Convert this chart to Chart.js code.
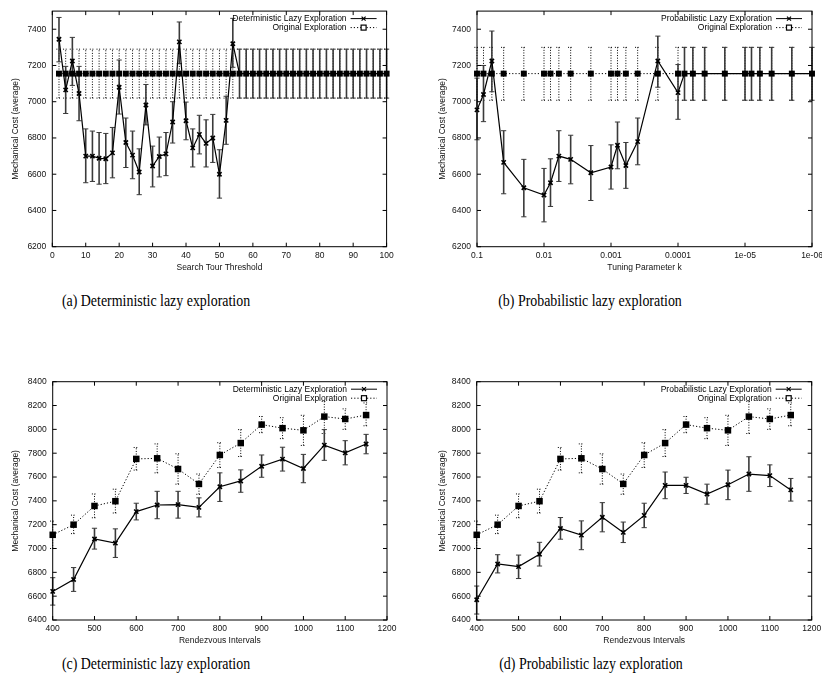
<!DOCTYPE html>
<html><head><meta charset="utf-8">
<script src="https://cdn.jsdelivr.net/npm/chart.js@4.4.1/dist/chart.umd.min.js"></script>
<style>
html,body{margin:0;padding:0;background:#fff}
body{width:822px;height:694px;position:relative;overflow:hidden}
canvas{position:absolute}
.cap{position:absolute;font:16px "Liberation Serif","Times New Roman",serif;color:#000;white-space:nowrap;transform:translateX(-50%) scaleX(0.87);line-height:18px}
</style></head><body>
<canvas id="ca" width="410" height="275" style="left:0;top:0"></canvas>
<canvas id="cb" width="422" height="275" style="left:410px;top:0"></canvas>
<canvas id="cc" width="410" height="300" style="left:0;top:355px"></canvas>
<canvas id="cd" width="422" height="300" style="left:410px;top:355px"></canvas>
<div class="cap" style="left:156px;top:292px">(a) Deterministic lazy exploration</div>
<div class="cap" style="left:590px;top:292px">(b) Probabilistic lazy exploration</div>
<div class="cap" style="left:156px;top:655px">(c) Deterministic lazy exploration</div>
<div class="cap" style="left:591px;top:655px">(d) Probabilistic lazy exploration</div>
<script>
// ---------- Panel (a): Search Tour Threshold ----------
const xA = [2,4,6,8,10,12,14,16,18,20,22,24,26,28,30,32,34,36,38,40,42,44,46,48,50,52,54,56,58,60,62,64,66,68,70,72,74,76,78,80,82,84,86,88,90,92,94,96,98,100];
const lazyA   = [7345,7065,7225,7045,6700,6700,6688,6685,6718,7080,6775,6705,6612,6982,6645,6698,6712,6888,7330,6895,6745,6820,6770,6800,6600,6897,7320,7155,7155,7155,7155,7155,7155,7155,7155,7155,7155,7155,7155,7155,7155,7155,7155,7155,7155,7155,7155,7155,7155,7155];
const lazyALo = [7220,6935,7090,6895,6553,6560,6545,6548,6580,6932,6637,6575,6487,6872,6530,6585,6592,6772,7210,6790,6640,6712,6640,6665,6468,6765,7190,7020,7020,7020,7020,7020,7020,7020,7020,7020,7020,7020,7020,7020,7020,7020,7020,7020,7020,7020,7020,7020,7020,7020];
const lazyAHi = [7465,7195,7355,7195,6850,6838,6830,6825,6858,7230,6910,6838,6740,7095,6755,6805,6830,7000,7440,6998,6850,6925,6900,6930,6735,7030,7460,7290,7290,7290,7290,7290,7290,7290,7290,7290,7290,7290,7290,7290,7290,7290,7290,7290,7290,7290,7290,7290,7290,7290];
const origA   = [7155,7155,7155,7155,7155,7155,7155,7155,7155,7155,7155,7155,7155,7155,7155,7155,7155,7155,7155,7155,7155,7155,7155,7155,7155,7155,7155,7155,7155,7155,7155,7155,7155,7155,7155,7155,7155,7155,7155,7155,7155,7155,7155,7155,7155,7155,7155,7155,7155,7155];
const origALo = [7020,7020,7020,7020,7020,7020,7020,7020,7020,7020,7020,7020,7020,7020,7020,7020,7020,7020,7020,7020,7020,7020,7020,7020,7020,7020,7020,7020,7020,7020,7020,7020,7020,7020,7020,7020,7020,7020,7020,7020,7020,7020,7020,7020,7020,7020,7020,7020,7020,7020];
const origAHi = [7290,7290,7290,7290,7290,7290,7290,7290,7290,7290,7290,7290,7290,7290,7290,7290,7290,7290,7290,7290,7290,7290,7290,7290,7290,7290,7290,7290,7290,7290,7290,7290,7290,7290,7290,7290,7290,7290,7290,7290,7290,7290,7290,7290,7290,7290,7290,7290,7290,7290];
const xTicksA = [0,10,20,30,40,50,60,70,80,90,100];
const yTicksAB = [6200,6400,6600,6800,7000,7200,7400];

// ---------- Panel (b): Tuning Parameter k ----------
const xB = [0.1,0.08,0.06,0.04,0.02,0.01,0.008,0.006,0.004,0.002,0.001,0.0008,0.0006,0.0004,0.0002,0.0001,0.00008,0.00006,0.00004,0.00002,0.00001,0.000008,0.000006,0.000004,0.000002,0.000001];
const lazyB   = [6955,7040,7225,6665,6525,6485,6553,6700,6682,6608,6640,6760,6648,6780,7225,7050,7155,7155,7155,7155,7155,7155,7155,7155,7155,7155];
const lazyBLo = [6790,6890,7055,6492,6365,6337,6422,6560,6547,6455,6518,6630,6522,6652,7080,6903,7008,7008,7008,7008,7008,7008,7008,7008,7008,7008];
const lazyBHi = [7130,7200,7390,6840,6682,6632,6685,6840,6815,6758,6762,6888,6775,6910,7362,7205,7300,7300,7300,7300,7300,7300,7300,7300,7300,7300];
const origB   = [7155,7155,7155,7155,7155,7155,7155,7155,7155,7155,7155,7155,7155,7155,7155,7155,7155,7155,7155,7155,7155,7155,7155,7155,7155,7155];
const origBLo = [7008,7008,7008,7008,7008,7008,7008,7008,7008,7008,7008,7008,7008,7008,7008,7008,7008,7008,7008,7008,7008,7008,7008,7008,7008,7008];
const origBHi = [7300,7300,7300,7300,7300,7300,7300,7300,7300,7300,7300,7300,7300,7300,7300,7300,7300,7300,7300,7300,7300,7300,7300,7300,7300,7300];
const xTicksB = [0.1,0.01,0.001,0.0001,0.00001,0.000001];
const xTickLabelsB = ['0.1','0.01','0.001','0.0001','1e-05','1e-06'];

// ---------- Panels (c),(d): Rendezvous Intervals ----------
const xCD = [400,450,500,550,600,650,700,750,800,850,900,950,1000,1050,1100,1150];
const lazyC   = [6640,6740,7080,7045,7310,7365,7368,7345,7518,7567,7690,7750,7672,7868,7803,7877];
const lazyCLo = [6525,6640,6995,6925,7240,7250,7255,7265,7395,7472,7598,7650,7552,7740,7702,7795];
const lazyCHi = [6755,6840,7170,7165,7380,7480,7480,7425,7635,7660,7785,7850,7790,7998,7905,7958];
const lazyD   = [6570,6870,6848,6952,7168,7112,7262,7135,7278,7530,7530,7457,7535,7625,7612,7492];
const lazyDLo = [6450,6795,6748,6853,7078,6990,7140,7050,7175,7418,7462,7372,7410,7480,7520,7398];
const lazyDHi = [6685,6948,6945,7052,7260,7232,7385,7222,7380,7642,7598,7540,7658,7770,7702,7588];
const origCD   = [7115,7200,7357,7397,7752,7757,7667,7542,7785,7885,8040,8010,7992,8107,8087,8120];
const origCDLo = [7000,7125,7258,7298,7658,7635,7540,7455,7680,7772,7972,7922,7865,7965,8000,8030];
const origCDHi = [7230,7280,7458,7498,7848,7878,7795,7625,7888,7998,8108,8098,8118,8235,8172,8222];
const xTicksCD = [400,500,600,700,800,900,1000,1100,1200];
const yTicksCD = [6400,6600,6800,7000,7200,7400,7600,7800,8000,8200,8400];

const FONT = '"Liberation Sans", Arial, sans-serif';
const FS = 8.5;

const gp = {
  id: 'gp',
  beforeDatasetsDraw(chart, args, o) {
    const ctx = chart.ctx, xs = chart.scales.x, ys = chart.scales.y;
    o.bars.forEach(b => {
      ctx.save();
      ctx.strokeStyle = b.color; ctx.lineWidth = b.width; ctx.setLineDash(b.dash);
      const cap = b.cap;
      b.x.forEach((xv, i) => {
        const px = xs.getPixelForValue(xv);
        const lo = ys.getPixelForValue(b.lo[i]), hi = ys.getPixelForValue(b.hi[i]);
        ctx.beginPath();
        ctx.moveTo(px, lo); ctx.lineTo(px, hi);
        ctx.stroke();
        ctx.beginPath();
        ctx.lineWidth = 1;
        ctx.moveTo(px - cap, lo); ctx.lineTo(px + cap, lo);
        ctx.moveTo(px - cap, hi); ctx.lineTo(px + cap, hi);
        ctx.stroke();
        ctx.lineWidth = b.width;
      });
      ctx.restore();
    });
  },
  afterDraw(chart, args, o) {
    const ctx = chart.ctx, a = chart.chartArea, xs = chart.scales.x, ys = chart.scales.y;
    ctx.save();
    ctx.strokeStyle = '#000'; ctx.lineWidth = 1; ctx.setLineDash([]);
    ctx.strokeRect(a.left, a.top, a.right - a.left, a.bottom - a.top);
    ctx.beginPath();
    xs.ticks.forEach(t => {
      const px = xs.getPixelForValue(t.value);
      ctx.moveTo(px, a.bottom); ctx.lineTo(px, a.bottom - 4);
      ctx.moveTo(px, a.top); ctx.lineTo(px, a.top + 4);
    });
    ys.ticks.forEach(t => {
      const py = ys.getPixelForValue(t.value);
      ctx.moveTo(a.left, py); ctx.lineTo(a.left + 4, py);
      ctx.moveTo(a.right, py); ctx.lineTo(a.right - 4, py);
    });
    ctx.stroke();
    // legend
    ctx.font = FS + 'px ' + FONT;
    ctx.fillStyle = '#000';
    ctx.textAlign = 'right'; ctx.textBaseline = 'middle';
    o.legend.forEach((it, i) => {
      const y = a.top + 7.5 + i * 9;
      ctx.fillText(it.label, a.right - 40, y);
      ctx.beginPath();
      ctx.setLineDash(it.dash); ctx.lineWidth = 1;
      ctx.moveTo(a.right - 36, y); ctx.lineTo(a.right - 10, y);
      ctx.stroke();
      ctx.setLineDash([]);
      const mx = a.right - 23;
      ctx.beginPath();
      if (it.marker === 'x') {
        ctx.lineWidth = 1.2;
        ctx.moveTo(mx - 2, y - 2); ctx.lineTo(mx + 2, y + 2);
        ctx.moveTo(mx - 2, y + 2); ctx.lineTo(mx + 2, y - 2);
        ctx.stroke();
      } else {
        ctx.fillStyle = '#fff';
        ctx.fillRect(mx - 2.5, y - 2.5, 5, 5);
        ctx.lineWidth = 1.2;
        ctx.strokeRect(mx - 2.5, y - 2.5, 5, 5);
        ctx.fillStyle = '#000';
      }
    });
    ctx.restore();
  }
};

function makeChart(id, cfg) {
  const pts = (xv, yv) => xv.map((x, i) => ({x: x, y: yv[i]}));
  const xScale = {
    type: cfg.xType,
    min: cfg.xMin, max: cfg.xMax, reverse: !!cfg.xReverse,
    grid: {display: false, drawTicks: false},
    border: {display: false},
    afterBuildTicks: s => { s.ticks = cfg.xTicks.map(v => ({value: v})); },
    afterFit: s => { s.height = cfg.geo.xh; },
    ticks: {
      autoSkip: false, maxRotation: 0, padding: cfg.geo.xtp, color: '#111',
      font: {family: FONT, size: FS},
      callback: (v, i) => cfg.xLabels ? cfg.xLabels[i] : String(cfg.xTicks[i])
    },
    title: {display: true, text: cfg.xTitle, color: '#111', font: {family: FONT, size: FS},
            padding: {top: 0, bottom: cfg.geo.xtitlePad}}
  };
  const yScale = {
    type: 'linear', min: cfg.yMin, max: cfg.yMax,
    grid: {display: false, drawTicks: false},
    border: {display: false},
    afterBuildTicks: s => { s.ticks = cfg.yTicks.map(v => ({value: v})); },
    afterFit: s => { s.width = cfg.geo.yw; },
    ticks: {padding: 6, color: '#111', font: {family: FONT, size: FS}, callback: v => String(v)},
    title: {display: true, text: 'Mechanical Cost (average)', color: '#111', font: {family: FONT, size: FS},
            padding: {top: cfg.geo.ytitlePad, bottom: 0}}
  };
  return new Chart(document.getElementById(id), {
    type: 'line',
    data: {
      datasets: [
        {label: cfg.lazyLabel, data: pts(cfg.x, cfg.lazy), borderColor: '#000', borderWidth: 1.2,
         pointStyle: 'crossRot', pointRadius: 3, pointBorderWidth: 1.6, pointBorderColor: '#000',
         pointBackgroundColor: '#000', tension: 0, clip: false},
        {label: 'Original Exploration', data: pts(cfg.x, cfg.orig), borderColor: '#000', borderWidth: 1,
         borderDash: [1.2, 2], pointStyle: 'rect', pointRadius: cfg.sq, pointBorderWidth: 0,
         pointBackgroundColor: '#000', pointBorderColor: '#000', tension: 0, clip: false}
      ]
    },
    options: {
      responsive: false, animation: false,
      layout: {padding: {left: 0, top: cfg.geo.top, right: cfg.geo.right, bottom: 0}},
      plugins: {
        legend: {display: false}, tooltip: {enabled: false},
        gp: {
          bars: [
            {x: cfg.x, lo: cfg.origLo, hi: cfg.origHi, color: '#000', width: 1, dash: [1, 1.6], cap: 2.6},
            {x: cfg.x, lo: cfg.lazyLo, hi: cfg.lazyHi, color: '#3a3a3a', width: 1.6, dash: [], cap: 2.6}
          ],
          legend: [
            {label: cfg.lazyLabel, dash: [], marker: 'x'},
            {label: 'Original Exploration', dash: [1.2, 2], marker: 'sq'}
          ]
        }
      },
      scales: {x: xScale, y: yScale}
    },
    plugins: [gp]
  });
}

makeChart('ca', {
  xType: 'linear', xMin: 0, xMax: 100, xTicks: xTicksA, xTitle: 'Search Tour Threshold',
  yMin: 6200, yMax: 7500, yTicks: yTicksAB,
  x: xA, lazy: lazyA, lazyLo: lazyALo, lazyHi: lazyAHi, orig: origA, origLo: origALo, origHi: origAHi,
  lazyLabel: 'Deterministic Lazy Exploration', sq: 4.2,
  geo: {yw: 52.3, xh: 28.3, top: 7.5, right: 23.4, xtp: 4, xtitlePad: 2.2, ytitlePad: 10.9}
});
makeChart('cb', {
  xType: 'logarithmic', xMin: 0.000001, xMax: 0.1, xReverse: true, xTicks: xTicksB, xLabels: xTickLabelsB,
  xTitle: 'Tuning Parameter k',
  yMin: 6200, yMax: 7500, yTicks: yTicksAB,
  x: xB, lazy: lazyB, lazyLo: lazyBLo, lazyHi: lazyBHi, orig: origB, origLo: origBLo, origHi: origBHi,
  lazyLabel: 'Probabilistic Lazy Exploration', sq: 4.2,
  geo: {yw: 67, xh: 28.3, top: 7.5, right: 20, xtp: 4, xtitlePad: 2.2, ytitlePad: 27.6}
});
makeChart('cc', {
  xType: 'linear', xMin: 400, xMax: 1200, xTicks: xTicksCD, xTitle: 'Rendezvous Intervals',
  yMin: 6400, yMax: 8400, yTicks: yTicksCD,
  x: xCD, lazy: lazyC, lazyLo: lazyCLo, lazyHi: lazyCHi, orig: origCD, origLo: origCDLo, origHi: origCDHi,
  lazyLabel: 'Deterministic Lazy Exploration', sq: 4.6,
  geo: {yw: 52.7, xh: 35, top: 26.7, right: 23, xtp: 4, xtitlePad: 8.9, ytitlePad: 10.9}
});
makeChart('cd', {
  xType: 'linear', xMin: 400, xMax: 1200, xTicks: xTicksCD, xTitle: 'Rendezvous Intervals',
  yMin: 6400, yMax: 8400, yTicks: yTicksCD,
  x: xCD, lazy: lazyD, lazyLo: lazyDLo, lazyHi: lazyDHi, orig: origCD, origLo: origCDLo, origHi: origCDHi,
  lazyLabel: 'Probabilistic Lazy Exploration', sq: 4.6,
  geo: {yw: 66.7, xh: 35, top: 26.7, right: 20.3, xtp: 4, xtitlePad: 8.9, ytitlePad: 27.6}
});
</script>
</body></html>
